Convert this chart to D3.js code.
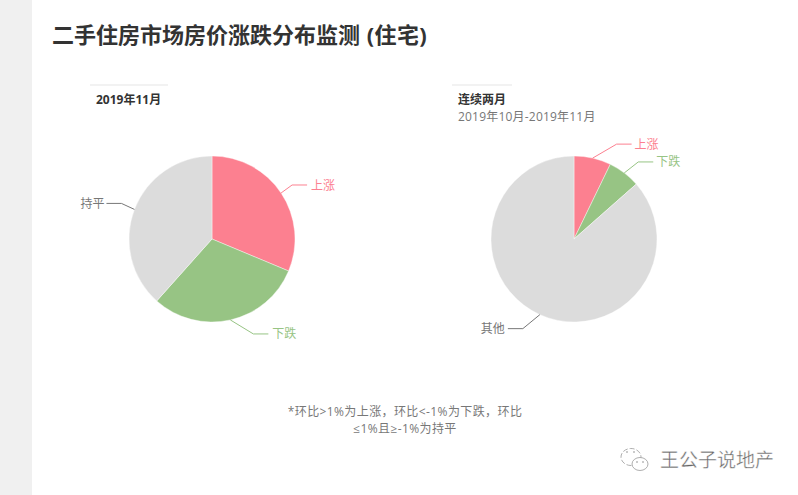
<!DOCTYPE html>
<html><head><meta charset="utf-8">
<style>html,body{margin:0;padding:0;background:#fff}svg{display:block}text{font-family:"Open Sans","Noto Sans CJK SC",sans-serif}</style>
<script src="https://cdn.jsdelivr.net/npm/d3@7/dist/d3.min.js"></script>
</head><body><svg id="c" width="798" height="495"></svg>
<script>
const titleMain = "二手住房市场房价涨跌分布监测 ";
const titleTail = "(住宅)";
const leftTitle = "2019年11月";
const rightTitle = "连续两月";
const rightSubtitle = "2019年10月-2019年11月";
const leftCategories = ["上涨","下跌","持平"];
const leftValues = [31.3,30.3,38.4];
const rightCategories = ["上涨","下跌","其他"];
const rightValues = [7.2,6.3,86.5];
const colors = ["#FC8090","#97C484","#DCDCDC"];
const labelColors = ["#FC8090","#97C484","#777777"];
const lineColors = ["#FC8090","#97C484","#777777"];
const footnote = ["*环比>1%为上涨，环比<-1%为下跌，环比","≤1%且≥-1%为持平"];
const watermark = "王公子说地产";

// leader elbow offsets from the slice edge, one per slice
const leftElbows = [[11,-8],[23,14],[-13,-6]];
const rightElbows = [[24,-14],[14,-11],[-17,14]];
const leftGaps = [4,4,2], rightGaps = [3,3,3];
const leaderLength2 = 15, radius = 83, cy = 239;

const svg = d3.select("#c");
svg.append("rect").attr("width",32).attr("height",495).attr("fill","#F0F0F0");
const title = svg.append("text").attr("x",52).attr("y",43).attr("font-size",22).attr("font-weight",700).attr("fill","#333");
title.append("tspan").text(titleMain);
title.append("tspan").attr("dx",1).attr("letter-spacing",0.4).text(titleTail);

function panel(cx, cats, vals, elbows, gaps){
  const pie = d3.pie().sort(null).value(d=>d)(vals);
  const arc = d3.arc().innerRadius(0).outerRadius(radius);
  const edge = d3.arc().innerRadius(radius).outerRadius(radius);
  const g = svg.append("g").attr("transform",`translate(${cx},${cy})`);
  g.selectAll("path.s").data(pie).join("path").attr("class","s").attr("d",arc)
    .attr("fill",(d,i)=>colors[i]).attr("stroke","#fff").attr("stroke-width",0.4);
  pie.forEach((d,i)=>{
    const [x,y] = edge.centroid(d);
    const ex = x+elbows[i][0], ey = y+elbows[i][1];
    const dir = ex>=0?1:-1;
    const lx = ex+dir*leaderLength2;
    g.append("path").attr("d",d3.line()([[x,y],[ex,ey],[lx,ey]])).attr("fill","none")
      .attr("stroke",lineColors[i]).attr("stroke-width",1);
    g.append("text").attr("x",lx+dir*gaps[i]).attr("y",ey+4.5).attr("font-size",12)
      .attr("text-anchor",dir>0?"start":"end").attr("fill",labelColors[i]).text(cats[i]);
  });
}
panel(212,leftCategories,leftValues,leftElbows,leftGaps);
panel(574,rightCategories,rightValues,rightElbows,rightGaps);

svg.append("rect").attr("x",90).attr("y",84).attr("width",78).attr("height",2).attr("fill","#F2F2F2");
svg.append("rect").attr("x",452).attr("y",84).attr("width",60).attr("height",2).attr("fill","#F2F2F2");
svg.append("text").attr("x",96).attr("y",104).attr("font-size",12).attr("font-weight",700).attr("fill","#333").text(leftTitle);
svg.append("text").attr("x",458).attr("y",104).attr("font-size",12).attr("font-weight",700).attr("fill","#333").text(rightTitle);
svg.append("text").attr("x",458).attr("y",121).attr("font-size",12).attr("letter-spacing",0.2).attr("fill","#777").text(rightSubtitle);

footnote.forEach((t,i)=>svg.append("text").attr("x",405).attr("y",416+i*16.5).attr("text-anchor","middle")
  .attr("font-size",12).attr("letter-spacing",0.4).attr("fill","#777").text(t));

// watermark
const wm = svg.append("g").attr("fill","none").attr("stroke","#999").attr("stroke-width",0.8);
wm.append("ellipse").attr("cx",631).attr("cy",457).attr("rx",10).attr("ry",8.5).attr("stroke-dasharray","5 2");
wm.append("ellipse").attr("cx",640).attr("cy",464).attr("rx",8).attr("ry",6.5).attr("fill","#fff");
wm.selectAll("circle.e").data([[627,452],[634,452],[637,462],[643,462]]).join("circle").attr("class","e")
  .attr("cx",d=>d[0]).attr("cy",d=>d[1]).attr("r",0.8).attr("fill","#888").attr("stroke","none");
svg.append("text").attr("x",660).attr("y",467).attr("font-size",19)
  .attr("fill","#666").attr("stroke","#fff").attr("stroke-width",0.4).text(watermark);
</script></body></html>
